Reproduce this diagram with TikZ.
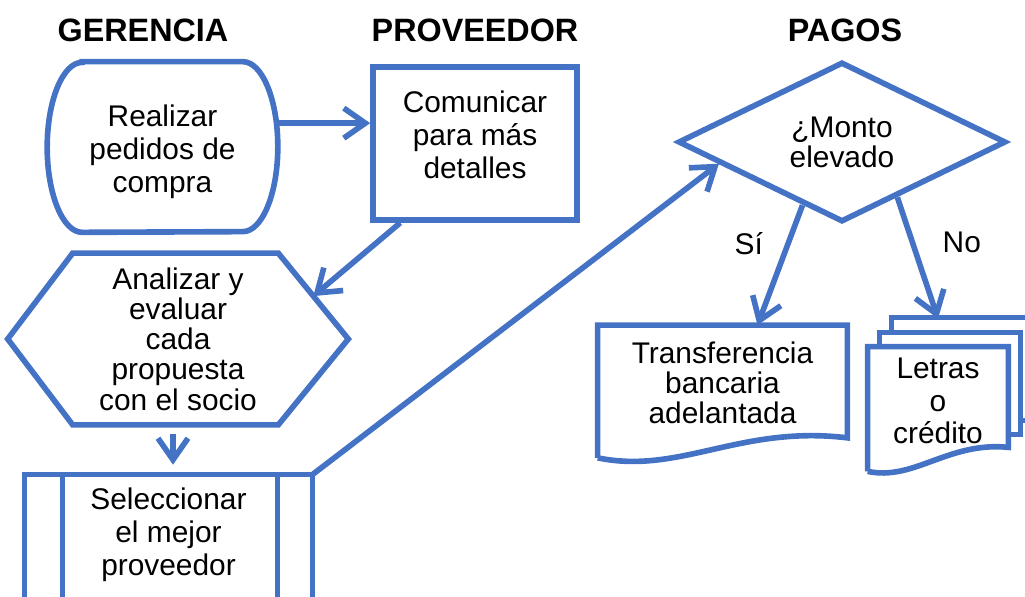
\documentclass[tikz,border=0pt]{standalone}
\usepackage{fontspec}
\setmainfont{Liberation Sans}
\usepackage{tikz}
\usetikzlibrary{shapes.geometric,arrows.meta,calc}
\definecolor{azul}{RGB}{68,114,196}
\tikzset{
  txt/.style={font=\fontsize{17}{18.7}\selectfont, text=black, align=center, inner sep=0pt},
  txtc/.style={txt, font=\fontsize{17}{17.2}\selectfont},
  titulo/.style={font=\bfseries\fontsize{18.4}{21}\selectfont, text=black},
  borde/.style={draw=azul, line width=3.2pt},
  flecha/.style={draw=azul, line width=3.2pt, -{Straight Barb[length=4.3mm, width=6mm]}},
}

\begin{document}
\begin{tikzpicture}[x=0.02cm, y=-0.02cm]
      \useasboundingbox (0,0) rectangle (1025,596);
      \clip (0,0) rectangle (1025,596);
      \node at (143,30)[titulo] (tger){GERENCIA};
      \node at (475,30)[titulo] (tprov){PROVEEDOR};
      \node at (845,30)[titulo] (tpag){PAGOS};
      \node at (162.5,147)[txt, minimum width=4.6cm, minimum height=3.4cm,
         label={[txt, yshift=-0.1cm]center:Realizar\\pedidos de\\compra}] (pedido){};
      \node at (475,143.5)[txt, borde, minimum width=4.08cm, minimum height=3.06cm,
         label={[txt, yshift=0.17cm]center:Comunicar\\para más\\detalles}] (prov){};
      \node at (178,339)[txtc, minimum width=6.8cm, minimum height=3.42cm] (analiz){Analizar y\\evaluar\\cada\\propuesta\\con el socio};
      \node at (168.5,535)[txt, minimum width=5.74cm, minimum height=2.4cm] (sel){Seleccionar\\el mejor\\proveedor};
      \node at (842,142)[txtc, borde, diamond, aspect=2, minimum width=6.56cm, minimum height=3.2cm] (mont){¿Monto\\elevado};
      \node at (722.5,383)[txtc, minimum width=4.98cm, minimum height=2.3cm] (trans){Transferencia\\bancaria\\adelantada};
      \node at (938,401)[txt, minimum width=2.8cm, minimum height=2.16cm] (letras){Letras\\o\\crédito};
      % contornos
      \draw[borde] ($(pedido.north west)+(35,0)$) -- ($(pedido.north east)+(-35,0)$)
         arc[start angle=90, end angle=-90, x radius=0.7cm, y radius=1.7cm]
         -- ($(pedido.south west)+(35,0)$)
         arc[start angle=270, end angle=90, x radius=0.7cm, y radius=1.7cm] -- cycle;
      \draw[borde] (analiz.west) -- ($(analiz.north west)+(65,0)$) -- ($(analiz.north east)+(-70,0)$)
         -- coordinate (analiz-ne) (analiz.east) -- ($(analiz.south east)+(-70,0)$)
         -- ($(analiz.south west)+(65,0)$) -- cycle;
      \draw[borde] ($(sel.south west)+(0,40)$) |- (sel.north east) -- ($(sel.south east)+(0,40)$);
      \draw[borde] ($(sel.north west)+(38,0)$) -- ($(sel.south west)+(38,40)$);
      \draw[borde] ($(sel.north east)+(-35,0)$) -- ($(sel.south east)+(-35,40)$);
      \draw[borde] ($(trans.south west)+(0,17)$) -- (trans.north west) -- (trans.north east)
         -- ($(trans.south east)+(0,-3)$)
         .. controls ($(trans.south east)+(-107,-16)$) and ($(trans.south west)+(82,34)$) .. ($(trans.south west)+(0,17)$);
      \draw[borde] ($(letras.north west)+(24,-14)$) -- ++(0,-15) -| ($(letras.north east)+(24,74)$) -- ++(-12,0);
      \draw[borde] ($(letras.north west)+(12,0)$) -- ++(0,-14) -| ($(letras.north east)+(12,88)$) -- ++(-12,0);
      \draw[borde] ($(letras.south west)+(0,16)$) -- (letras.north west) -- (letras.north east)
         -- ($(letras.south east)+(0,-8)$)
         .. controls ($(letras.south east)+(-60,-14)$) and ($(letras.south west)+(46,26)$) .. ($(letras.south west)+(0,16)$);
      % flechas
      \draw[flecha] (prov.169 -| pedido.east) -- (prov.169);
      \draw[flecha] ($(prov.south west)+(30,0)$) -- (analiz-ne);
      \draw[flecha, shorten <=0.18cm, shorten >=0.2cm] ([xshift=-0.1cm]analiz.south) -- ([xshift=-0.1cm]analiz.south |- sel.north);
      \draw[flecha] (sel.north east) -- (mont.190);
      \draw[flecha] (mont.238) -- node[txt, pos=0.32, left=0.45cm]{Sí} ($(trans.north)+(35,0)$);
      \draw[flecha] (mont.315) -- node[txt, pos=0.37, right=0.55cm]{No} ($(letras.north)+(0,-28)$);
\end{tikzpicture}
\end{document}
